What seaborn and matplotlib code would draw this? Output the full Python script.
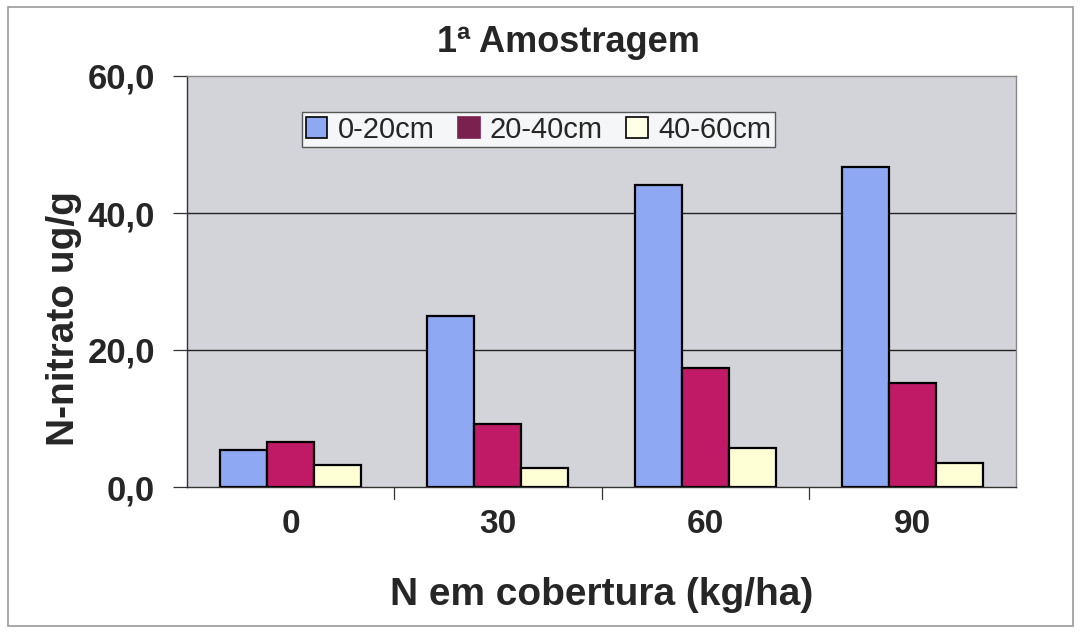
import matplotlib
matplotlib.use("Agg")
import matplotlib.pyplot as plt
import matplotlib.patches as mpatches
import seaborn as sns
import pandas as pd

# Nitrate content by top-dressing N rate and soil depth
doses = ["0", "30", "60", "90"]
depths = ["0-20cm", "20-40cm", "40-60cm"]
vals_0_20 = [5.4, 25.0, 44.1, 46.7]
vals_20_40 = [6.6, 9.2, 17.4, 15.2]
vals_40_60 = [3.2, 2.8, 5.7, 3.5]
yticks = [0, 20, 40, 60]
ytick_labels = ["0,0", "20,0", "40,0", "60,0"]

title = "1ª Amostragem"
xlabel = "N em cobertura (kg/ha)"
ylabel = "N-nitrato ug/g"

df = pd.DataFrame({
    "dose": doses * 3,
    "depth": [depths[0]] * 4 + [depths[1]] * 4 + [depths[2]] * 4,
    "value": vals_0_20 + vals_20_40 + vals_40_60,
})

colors = ["#8FA8F3", "#C01A66", "#FFFFD6"]
legend_colors = ["#8FA8F3", "#7B2150", "#FFFFE6"]

sns.set_theme(style="white")
plt.rcParams["font.family"] = ["Liberation Sans", "DejaVu Sans"]

W, H = 1081, 632
fig = plt.figure(figsize=(W / 100, H / 100), dpi=100)
ax = fig.add_axes([187 / W, 1 - 487 / H, (1016 - 187) / W, (487 - 76) / H])

sns.barplot(data=df, x="dose", y="value", hue="depth", order=doses,
            hue_order=depths, palette=colors, width=0.68, edgecolor="black",
            linewidth=1.6, saturation=1, ax=ax, legend=False, zorder=3)

ax.set_facecolor("#D2D4D9")
ax.set_ylim(0, 60)
ax.set_xlim(-0.5, 3.5)
ax.set_yticks(yticks)
ax.set_yticklabels(ytick_labels, fontsize=25, fontweight="bold")
ax.set_xticks(range(len(doses)))
ax.set_xticklabels(doses, fontsize=24, fontweight="bold")
ax.tick_params(axis="x", length=0, pad=16)
ax.tick_params(axis="y", length=10, width=0.9, color="#333333", left=True, pad=13)

# category boundary ticks under the axis
for b in [0.5, 1.5, 2.5]:
    ax.plot([b, b], [0, -1.8], color="#333333", lw=0.9, clip_on=False)

for y in [20, 40]:
    ax.axhline(y, color="#222222", lw=1.0, zorder=1)

for side in ["top", "right"]:
    ax.spines[side].set_color("#888888")
    ax.spines[side].set_linewidth(1.0)
for side in ["left", "bottom"]:
    ax.spines[side].set_color("#333333")
    ax.spines[side].set_linewidth(1.0)

ax.set_xlabel(xlabel, fontsize=28, fontweight="bold")
ax.xaxis.set_label_coords(0.5, -0.22)
ax.set_ylabel(ylabel, fontsize=28, fontweight="bold")
ax.yaxis.set_label_coords(-0.127, 0.41)
fig.text(568 / W, 1 - 42 / H, title, ha="center", va="center",
         fontsize=26, fontweight="bold")

handles = [mpatches.Patch(facecolor=c, edgecolor="black", linewidth=1.2,
                          label=l) for c, l in zip(legend_colors, depths)]
handles[1].set_edgecolor(legend_colors[1])
leg = ax.legend(handles=handles, loc="upper left", ncol=3,
                bbox_to_anchor=((302 - 187) / 829, (487 - 112) / 411),
                frameon=True, fontsize=21,
                handlelength=0.75, handleheight=0.75, handletextpad=0.35,
                columnspacing=0.8, borderpad=0.12, borderaxespad=0,
                fancybox=False)
leg.get_frame().set_edgecolor("#333333")
leg.get_frame().set_facecolor("white")
leg.get_frame().set_linewidth(1.0)

# outer chart border
fig.patches.append(mpatches.Rectangle((8 / W, 6 / H), 1065 / W, 619 / H,
                                      transform=fig.transFigure, fill=False,
                                      edgecolor="#999999", lw=1.2))

fig.savefig("out.png", dpi=100, facecolor="white")
